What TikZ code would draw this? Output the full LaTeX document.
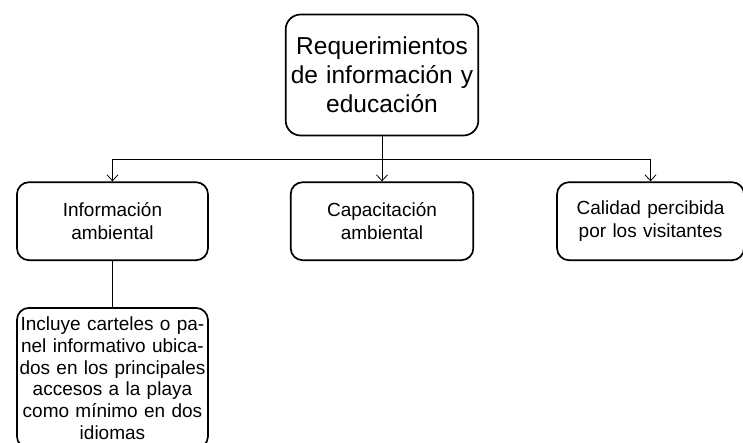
\documentclass[tikz,border=0pt]{standalone}
\usepackage{fontspec}
\setmainfont{Liberation Sans}
\usetikzlibrary{positioning, arrows.meta}
\tikzstyle{rootbox} = [rectangle, rounded corners=15pt, minimum width=192pt, minimum height=121pt, text width=186pt, align=center, draw=black, line width=1.7pt, font=\fontsize{24.5}{29}\selectfont]
\tikzstyle{branch} = [rectangle, rounded corners=12pt, minimum width=180pt, minimum height=78pt, text width=176pt, align=center, draw=black, line width=1.7pt, font=\fontsize{19}{22.5}\selectfont]
\tikzstyle{detail} = [rectangle, rounded corners=12pt, minimum width=191pt, text width=187pt, inner xsep=2pt, inner ysep=9pt, align=center, draw=black, line width=1.7pt, font=\fontsize{19}{21.7}\selectfont]
\tikzstyle{line} = [line width=0.8pt]
\tikzstyle{arrow} = [line width=0.8pt, -{Straight Barb[length=6pt, width=11pt]}]

\begin{document}
\begin{tikzpicture}[x=1pt, y=1pt]
        \useasboundingbox (0,0) rectangle (743,-442);

        \node[rootbox] at (382,-75)                               (root)    {Requerimientos\\de información y\\educación};
        \node[branch, below=45pt of root]                         (cap)     {Capacitación\\ambiental};
        \node[branch, minimum width=191pt, left=81pt of cap]      (info)    {Información\\ambiental};
        \node[branch, minimum width=187pt, right=82pt of cap]     (calidad) {Calidad percibida\\por los visitantes};
        \node[detail, below=46pt of info]                         (detail)  {Incluye carteles o pa-\\nel informativo ubica-\\dos en los principales\\accesos a la playa\\como mínimo en dos\\idiomas};

        \coordinate[below=23pt of root.south] (split);

        \draw[arrow] (root.south) -- (cap.north);
        \draw[arrow] (split) -| (info.north);
        \draw[arrow] (split) -| (calidad.north);
        \draw[line]  (info.south) -- (detail.north);
    \end{tikzpicture}
\end{document}
